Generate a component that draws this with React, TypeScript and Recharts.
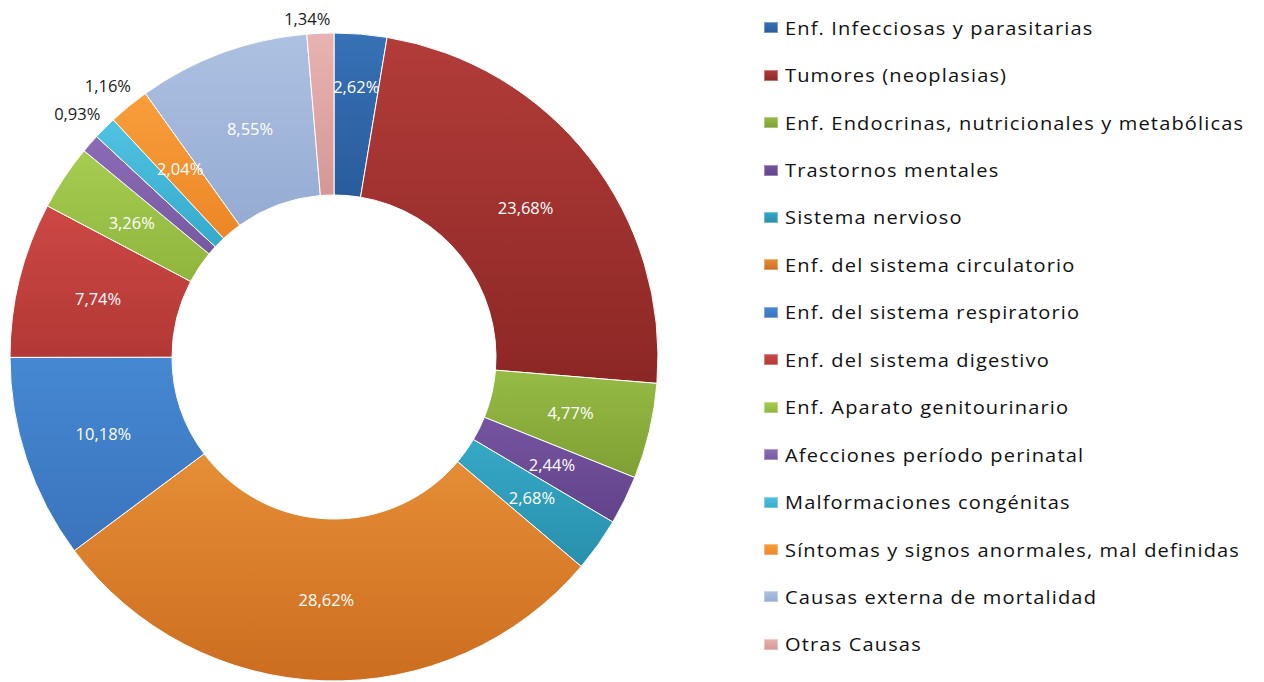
import React from "react";
import { Cell, Legend, Pie, PieChart } from "recharts";

const causes = [
  "Enf. Infecciosas y parasitarias",
  "Tumores (neoplasias)",
  "Enf. Endocrinas, nutricionales y metabólicas",
  "Trastornos mentales",
  "Sistema nervioso",
  "Enf. del sistema circulatorio",
  "Enf. del sistema respiratorio",
  "Enf. del sistema digestivo",
  "Enf. Aparato genitourinario",
  "Afecciones período perinatal",
  "Malformaciones congénitas",
  "Síntomas y signos anormales, mal definidas",
  "Causas externa de mortalidad",
  "Otras Causas",
];

const shares = [2.62, 23.68, 4.77, 2.44, 2.68, 28.62, 10.18, 7.74, 3.26, 0.93, 1.16, 2.04, 8.55, 1.34];

// [light, dark] for each slice gradient
const colors: [string, string][] = [
  ["#3771b6", "#2a5c9c"],
  ["#b23c39", "#8c2725"],
  ["#96bb45", "#7f9f33"],
  ["#7655a0", "#62428a"],
  ["#36a8c6", "#2890ad"],
  ["#e68e37", "#cc6d1f"],
  ["#4688d2", "#3a74bd"],
  ["#cc4845", "#b33835"],
  ["#a6cd52", "#8fb53c"],
  ["#8c6bb6", "#765aa0"],
  ["#50c3e2", "#36aacb"],
  ["#f99e3c", "#ec8626"],
  ["#adc1e2", "#95abd2"],
  ["#e8b3b2", "#d49796"],
];

const data = causes.map((name, i) => ({ name, value: shares[i] }));

const RADIAN = Math.PI / 180;
const FONT = "'Open Sans', sans-serif";

// label tweaks like Excel's "best fit": [angle shift in deg, radius from outer edge]
const labelNudge: Record<number, [number, number]> = {
  0: [0, -53],
  9: [-2.3, 30],
  10: [-5.2, 29],
  13: [2.1, 16],
};

const fmt = (v: number) => v.toFixed(2).replace(".", ",") + "%";

function renderLabel(props: any) {
  const { cx, cy, midAngle, innerRadius, outerRadius, value, index } = props;
  const small = value < 1.5;
  let r = (innerRadius + outerRadius) / 2;
  let a = midAngle;
  const nudge = labelNudge[index];
  if (nudge) {
    a = midAngle + nudge[0];
    r = outerRadius + nudge[1];
  }
  const x = cx + r * Math.cos(-a * RADIAN);
  const y = cy + r * Math.sin(-a * RADIAN);
  return (
    <text
      x={x}
      y={y}
      fill={small ? "#1a1a1a" : "#ffffff"}
      textAnchor="middle"
      dominantBaseline="central"
      fontFamily={FONT}
      fontSize={16.5}
    >
      {fmt(value)}
    </text>
  );
}

function LegendList() {
  return (
    <div style={{ fontFamily: FONT }}>
      {causes.map((name, i) => (
        <div
          key={name}
          style={{ display: "flex", alignItems: "center", height: 47.45, whiteSpace: "nowrap" }}
        >
          <span
            style={{
              display: "inline-block",
              width: 14,
              height: 11,
              marginRight: 7,
              background: `linear-gradient(180deg, ${colors[i][0]} 0%, ${colors[i][1]} 100%)`,
              boxShadow: "inset 0 0 0 1px rgba(255,255,255,0.35)",
            }}
          />
          <span
            style={{
              display: "inline-block",
              fontSize: 17.5,
              letterSpacing: 1,
              color: "#111",
              transform: "scaleX(1.145)",
              transformOrigin: "left center",
            }}
          >
            {name}
          </span>
        </div>
      ))}
    </div>
  );
}

export default function App() {
  return (
    <div style={{ width: 1248, height: 674, background: "#fff" }}>
      <PieChart width={1248} height={674} margin={{ top: 0, right: 0, bottom: 0, left: 0 }}>
        <defs>
          {colors.map(([light, dark], i) => (
            <linearGradient key={i} id={`slice${i}`} x1="0" y1="0" x2="0" y2="1">
              <stop offset="0%" stopColor={light} />
              <stop offset="100%" stopColor={dark} />
            </linearGradient>
          ))}
        </defs>
        <Pie
          data={data}
          dataKey="value"
          nameKey="name"
          cx={326}
          cy={349}
          innerRadius={162}
          outerRadius={324}
          startAngle={90}
          endAngle={-270}
          stroke="#ffffff"
          strokeWidth={1}
          label={renderLabel}
          labelLine={false}
          isAnimationActive={false}
        >
          {data.map((d, i) => (
            <Cell key={d.name} fill={`url(#slice${i})`} />
          ))}
        </Pie>
        <Legend
          layout="vertical"
          content={() => <LegendList />}
          wrapperStyle={{ position: "absolute", left: 756, top: -4, width: 490 }}
        />
      </PieChart>
    </div>
  );
}
